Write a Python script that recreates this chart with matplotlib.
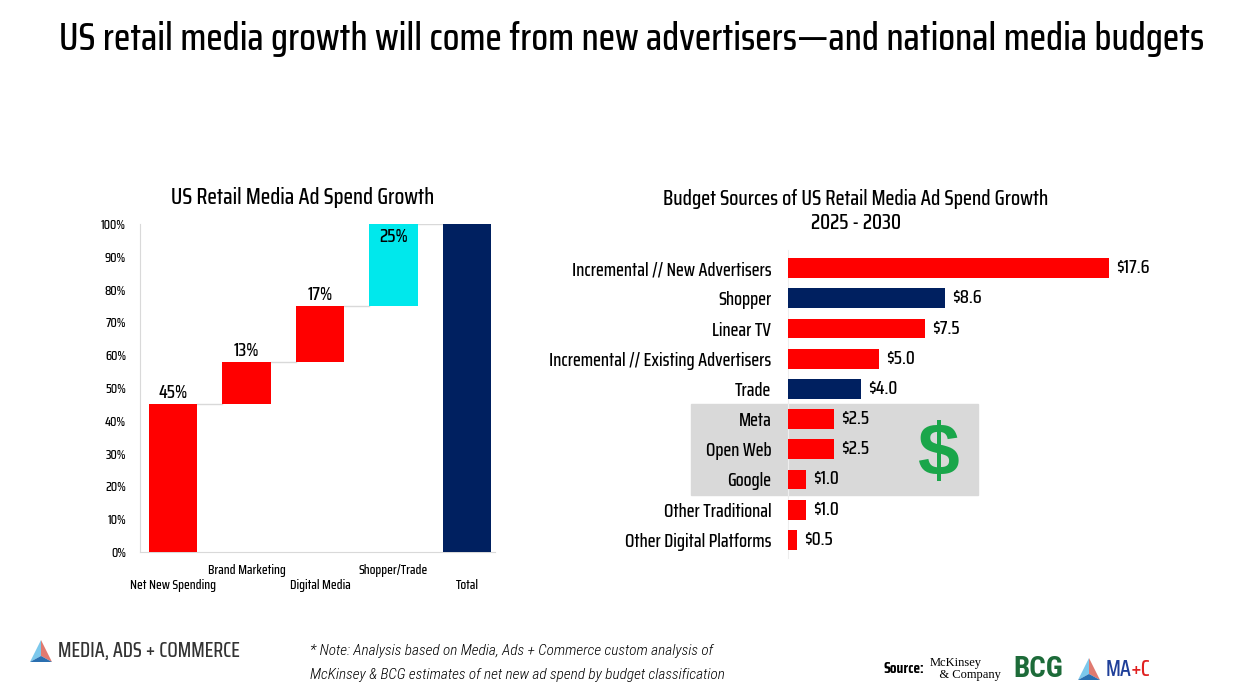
import matplotlib.pyplot as plt
from matplotlib.patches import Rectangle, Polygon

# waterfall data (share of growth, %)
wf_labels = ['Net New Spending', 'Brand Marketing', 'Digital Media', 'Shopper/Trade', 'Total']
wf_values = [45, 13, 17, 25]
wf_total = 100

# budget sources ($B)
src_labels = ['Incremental // New Advertisers', 'Shopper', 'Linear TV',
              'Incremental // Existing Advertisers', 'Trade', 'Meta', 'Open Web',
              'Google', 'Other Traditional', 'Other Digital Platforms']
src_values = [17.6, 8.6, 7.5, 5.0, 4.0, 2.5, 2.5, 1.0, 1.0, 0.5]
src_group = ['new', 'shopper', 'new', 'new', 'shopper', 'new', 'new', 'new', 'new', 'new']
highlight = ['Meta', 'Open Web', 'Google']

RED = '#ff0000'
NAVY = '#002060'
CYAN = '#00e8ec'
GRID = '#d9d9d9'

plt.rcParams['font.family'] = ['Saira Condensed', 'DejaVu Sans']
plt.rcParams['font.weight'] = 500

W, H = 1248, 689
fig = plt.figure(figsize=(W / 100, H / 100), dpi=100)


def fx(px):
    return px / W


def fy(py):
    return 1 - py / H


fig.text(fx(632), fy(39), 'US retail media growth will come from new advertisers\u2014and national media budgets',
         ha='center', va='center', fontsize=27.5)

# ---- left: waterfall
ax1 = fig.add_axes([fx(140), fy(552), fx(495) - fx(140), fy(224) - fy(552)])
bottoms = []
run = 0
for v in wf_values:
    bottoms.append(run)
    run += v
colors = [RED, RED, RED, CYAN]
xs = list(range(len(wf_labels)))
ax1.bar(xs[:4], wf_values, bottom=bottoms, width=0.66, color=colors, zorder=3)
ax1.bar(xs[4], wf_total, width=0.66, color=NAVY, zorder=3)
# connectors
tops = [b + v for b, v in zip(bottoms, wf_values)]
for i, t in enumerate(tops):
    ax1.plot([i + 0.33, i + 0.67], [t, t], color=GRID, lw=1, zorder=2)
for i, (b, v) in enumerate(zip(bottoms, wf_values)):
    if b + v >= 100:
        ax1.text(i, b + v - 1.2, f'{v}%', ha='center', va='top', fontsize=13.5)
    else:
        ax1.text(i, b + v + 0.6, f'{v}%', ha='center', va='bottom', fontsize=13.5)
ax1.set_xlim(-0.45, 4.38)
ax1.set_ylim(0, 100)
ax1.set_yticks(range(0, 101, 10))
ax1.set_yticklabels([f'{t}%' for t in range(0, 101, 10)], fontsize=9.5)
ax1.set_xticks([])
ax1.tick_params(axis='y', length=0, pad=10)
for s in ['top', 'right']:
    ax1.spines[s].set_visible(False)
for s in ['left', 'bottom']:
    ax1.spines[s].set_color(GRID)
for i, lab in enumerate(wf_labels):
    off = -5.5 if i % 2 else -10.3
    ax1.text(i, off, lab, ha='center', va='center', fontsize=9.5)
fig.text(fx(303), fy(197), 'US Retail Media Ad Spend Growth', ha='center', va='center', fontsize=16)

# ---- right: horizontal bars
ax2 = fig.add_axes([fx(788), fy(558), fx(1160) - fx(788), fy(250) - fy(558)])
ys = list(range(len(src_labels)))
bar_colors = [NAVY if g == 'shopper' else RED for g in src_group]
ax2.barh(ys, src_values, height=0.66, color=bar_colors, zorder=3)
for y, v in zip(ys, src_values):
    ax2.text(v + 0.4, y, f'${v:.1f}', ha='left', va='center', fontsize=13.5)
hl = [src_labels.index(h) for h in highlight]
ax2.add_patch(Rectangle((-5.33, min(hl) - 0.5), 15.73, len(hl), color='#d9d9d9',
                        clip_on=False, zorder=0))
ax2.text(8.2, sum(hl) / len(hl) + 0.2, '$', ha='center', va='center', fontsize=54,
         color='#1aa64a', fontweight='bold', family='Liberation Sans', zorder=4)
ax2.set_xlim(0, 20.4)
ax2.set_ylim(len(src_labels) - 0.4, -0.6)
ax2.set_yticks(ys)
ax2.set_yticklabels(src_labels, fontsize=13.1)
ax2.set_xticks([])
ax2.tick_params(axis='y', length=0, pad=12)
for s in ['top', 'right', 'bottom']:
    ax2.spines[s].set_visible(False)
ax2.spines['left'].set_color('#eeeeee')
ax2.patch.set_alpha(0)
fig.text(fx(856), fy(211), 'Budget Sources of US Retail Media Ad Spend Growth\n2025 - 2030',
         ha='center', va='center', fontsize=15, linespacing=1.3)

# ---- footer
def logo(x, y, s):
    top = (fx(x + s), fy(y - s))
    mid = (fx(x + s), fy(y + s * 0.45))
    bl = (fx(x), fy(y + s))
    br = (fx(x + 2 * s), fy(y + s))
    fig.patches.append(Polygon([bl, top, mid], closed=True, transform=fig.transFigure,
                               facecolor='#7cc8ec', edgecolor='none'))
    fig.patches.append(Polygon([top, br, mid], closed=True, transform=fig.transFigure,
                               facecolor='#e07a70', edgecolor='none'))
    fig.patches.append(Polygon([bl, mid, br], closed=True, transform=fig.transFigure,
                               facecolor='#2a6fb0', edgecolor='none'))


logo(30, 651, 11)
fig.text(fx(58), fy(651), 'MEDIA, ADS + COMMERCE', ha='left', va='center', fontsize=14.5, color='#333333')
fig.text(fx(310), fy(651), '* Note: Analysis based on Media, Ads + Commerce custom analysis of',
         ha='left', va='center', fontsize=11, style='italic', family=['Roboto Condensed', 'DejaVu Sans'],
         fontweight='light')
fig.text(fx(310), fy(675), 'McKinsey & BCG estimates of net new ad spend by budget classification',
         ha='left', va='center', fontsize=11, style='italic', family=['Roboto Condensed', 'DejaVu Sans'],
         fontweight='light')
fig.text(fx(884), fy(669), 'Source:', ha='left', va='center', fontsize=11, fontweight='bold')
fig.text(fx(930), fy(669), 'McKinsey\n   & Company', ha='left', va='center', fontsize=9,
         family='Liberation Serif', linespacing=1.0, fontweight='normal')
fig.text(fx(1013), fy(669), 'BCG', ha='left', va='center', fontsize=21, fontweight='heavy',
         color='#1d6b39', family='Roboto Condensed')
logo(1078, 669, 11)
fig.text(fx(1106), fy(669), 'MA', ha='left', va='center', fontsize=16, color='#1f3f99')
fig.text(fx(1131), fy(669), '+C', ha='left', va='center', fontsize=16, color='#e02020')

fig.savefig('out.png', dpi=100)
